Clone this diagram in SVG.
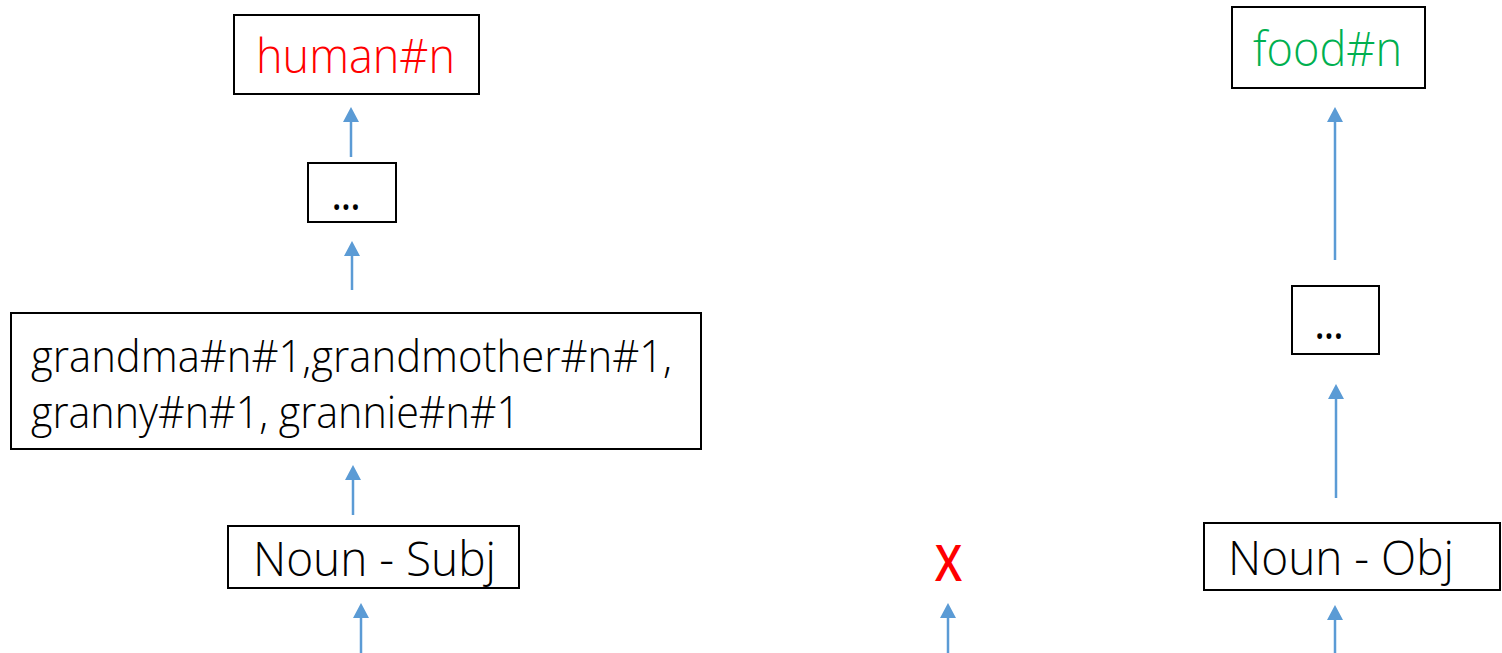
<svg xmlns="http://www.w3.org/2000/svg" width="1502" height="653" viewBox="0 0 1502 653">
  <style>
    .box { fill: #ffffff; stroke: #000000; stroke-width: 2; }
    .lbl { font-family: "Open Sans", "Noto Sans", "Liberation Sans", sans-serif; font-weight: 300; fill: #000000; }
    .heavy { font-weight: 600; }
    .red { fill: #ff0000; }
    .green { fill: #00b050; }
    .edge { stroke: #5b9bd5; stroke-width: 2.5; fill: none; marker-end: url(#head); }
  </style>
  <defs>
    <marker id="head" viewBox="0 -8 15 16" refX="0" refY="0" markerWidth="15" markerHeight="16" markerUnits="userSpaceOnUse" orient="auto">
      <path d="M0,-8 L15,0 L0,8 Z" fill="#5b9bd5"/>
    </marker>
  </defs>
  <rect width="1502" height="653" fill="#ffffff"/>

  <!-- left column: subject hypernym chain -->
  <g id="human">
    <rect class="box" x="234" y="15" width="245" height="79"/>
    <text class="lbl red" x="256" y="73" font-size="48" textLength="199" lengthAdjust="spacingAndGlyphs">human#n</text>
  </g>
  <g id="subj-ellipsis">
    <rect class="box" x="308" y="163" width="88" height="59"/>
    <text class="lbl heavy" x="332" y="210" font-size="40" textLength="28" lengthAdjust="spacingAndGlyphs">...</text>
  </g>
  <g id="grandma">
    <rect class="box" x="11" y="313" width="690" height="136"/>
    <text class="lbl" x="31" y="372" font-size="44" textLength="641" lengthAdjust="spacingAndGlyphs">grandma#n#1,grandmother#n#1,</text>
    <text class="lbl" x="31" y="428" font-size="44" textLength="489" lengthAdjust="spacingAndGlyphs">granny#n#1, grannie#n#1</text>
  </g>
  <g id="noun-subj">
    <rect class="box" x="228" y="526" width="291" height="62"/>
    <text class="lbl" x="253" y="576" font-size="48" textLength="243" lengthAdjust="spacingAndGlyphs">Noun - Subj</text>
  </g>

  <!-- middle: failed link -->
  <g id="mismatch">
    <text class="lbl heavy red" x="935" y="581" font-size="50" textLength="27" lengthAdjust="spacingAndGlyphs">X</text>
  </g>

  <!-- right column: object hypernym chain -->
  <g id="food">
    <rect class="box" x="1232" y="7" width="193" height="81"/>
    <text class="lbl green" x="1253" y="66" font-size="48" textLength="149" lengthAdjust="spacingAndGlyphs">food#n</text>
  </g>
  <g id="obj-ellipsis">
    <rect class="box" x="1292" y="286" width="87" height="68"/>
    <text class="lbl heavy" x="1315" y="339" font-size="40" textLength="28" lengthAdjust="spacingAndGlyphs">...</text>
  </g>
  <g id="noun-obj">
    <rect class="box" x="1204" y="523" width="296" height="67"/>
    <text class="lbl" x="1228" y="575" font-size="48" textLength="226" lengthAdjust="spacingAndGlyphs">Noun - Obj</text>
  </g>

  <!-- connectors: each line stops at the arrowhead base -->
  <g id="connectors">
    <line class="edge" x1="351" y1="157" x2="351" y2="122"/>
    <line class="edge" x1="352" y1="290" x2="352" y2="256"/>
    <line class="edge" x1="353" y1="515" x2="353" y2="480"/>
    <line class="edge" x1="361" y1="653" x2="361" y2="618"/>
    <line class="edge" x1="948" y1="653" x2="948" y2="618"/>
    <line class="edge" x1="1335" y1="260" x2="1335" y2="122"/>
    <line class="edge" x1="1336" y1="498" x2="1336" y2="399"/>
    <line class="edge" x1="1335" y1="653" x2="1335" y2="620"/>
  </g>
</svg>
